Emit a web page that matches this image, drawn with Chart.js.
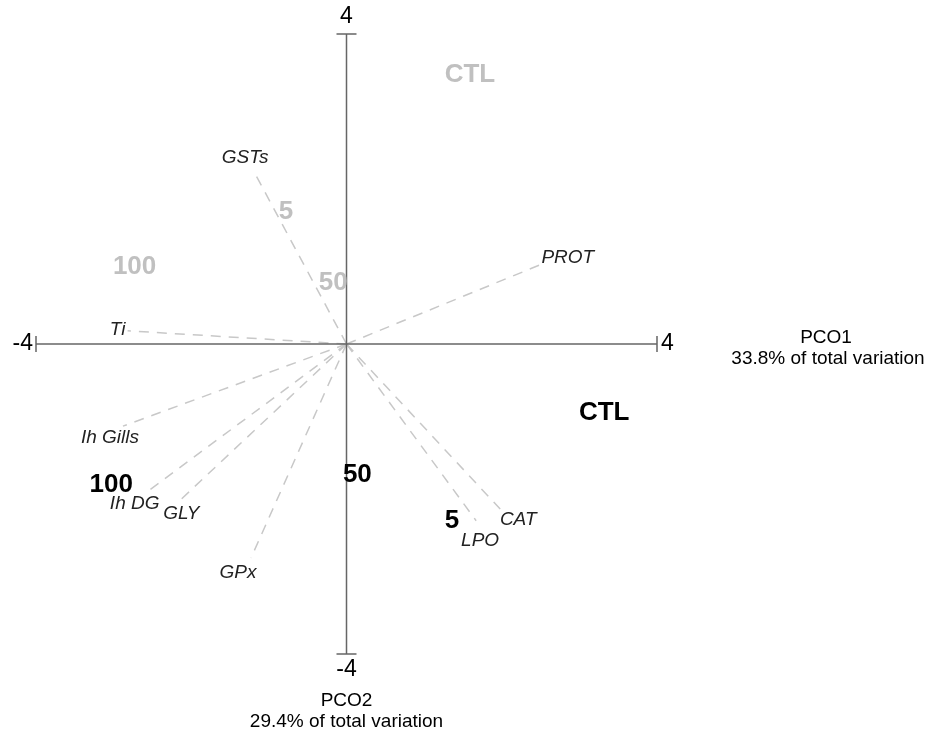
<!DOCTYPE html>
<html>
<head>
<meta charset="utf-8">
<script src="https://cdn.jsdelivr.net/npm/chart.js@4/dist/chart.umd.min.js"></script>
<style>
  html, body { margin: 0; padding: 0; background: #fff; }
  #wrap { width: 928px; height: 735px; }
</style>
</head>
<body>
<div id="wrap"><canvas id="pco"></canvas></div>
<script>
// vetores das variaveis (fim de cada linha tracejada)
const variaveis = ['GSTs', 'Ti', 'PROT', 'Ih Gills', 'Ih DG', 'GLY', 'GPx', 'CAT', 'LPO'];
const vetorX = [-1.19, -2.82, 2.49, -2.88, -2.60, -2.18, -1.23, 1.98, 1.67];
const vetorY = [2.22, 0.17, 1.02, -1.06, -1.93, -2.05, -2.76, -2.13, -2.28];

// grupos (centroides) - cinza e preto
const gruposCinza = ['CTL', '5', '100', '50'];
const cinzaX = [1.59, -0.78, -2.73, -0.17];
const cinzaY = [3.47, 1.70, 0.99, 0.79];

const gruposPreto = ['CTL', '50', '5', '100'];
const pretoX = [3.32, 0.14, 1.36, -3.03];
const pretoY = [-0.89, -1.69, -2.28, -1.82];

const limites = [-4, 4];
const tituloX = ['PCO1', '33.8% of total variation'];
const tituloY = ['PCO2', '29.4% of total variation'];

// deslocamento dos rotulos das variaveis em pixels (so estilo)
const offsetRotulo = {
  'GSTs': [-9, -14], 'Ti': [-10, -1], 'PROT': [28, -7], 'Ih Gills': [-13, 12],
  'Ih DG': [-10, 10], 'GLY': [4, 11], 'GPx': [-13, 15], 'CAT': [18, 11], 'LPO': [4, 20]
};

const fonte = "'Liberation Sans', Arial, sans-serif";

const datasets = [];
// eixos
datasets.push({ data: [{x: limites[0], y: 0}, {x: limites[1], y: 0}], borderColor: '#666', borderWidth: 1.5 });
datasets.push({ data: [{x: 0, y: limites[0]}, {x: 0, y: limites[1]}], borderColor: '#666', borderWidth: 1.5 });
// vetores tracejados
variaveis.forEach((v, i) => {
  datasets.push({
    data: [{x: 0, y: 0}, {x: vetorX[i], y: vetorY[i]}],
    borderColor: '#c8c8c8', borderWidth: 1.5, borderDash: [10, 8]
  });
});

const rotulos = {
  id: 'rotulos',
  afterDatasetsDraw(chart) {
    const ctx = chart.ctx;
    const sx = chart.scales.x, sy = chart.scales.y;
    const px = v => sx.getPixelForValue(v);
    const py = v => sy.getPixelForValue(v);
    ctx.save();
    ctx.textBaseline = 'middle';
    ctx.textAlign = 'center';

    // marcas nas pontas dos eixos
    ctx.strokeStyle = '#666';
    ctx.lineWidth = 1.5;
    ctx.beginPath();
    ctx.moveTo(px(limites[0]), py(0) - 8); ctx.lineTo(px(limites[0]), py(0) + 8);
    ctx.moveTo(px(limites[1]), py(0) - 8); ctx.lineTo(px(limites[1]), py(0) + 8);
    ctx.moveTo(px(0) - 10, py(limites[1])); ctx.lineTo(px(0) + 10, py(limites[1]));
    ctx.moveTo(px(0) - 10, py(limites[0])); ctx.lineTo(px(0) + 10, py(limites[0]));
    ctx.stroke();

    // numeros dos eixos
    ctx.fillStyle = '#000';
    ctx.font = '23px ' + fonte;
    ctx.fillText(String(limites[1]), px(0), py(limites[1]) - 17);
    ctx.fillText(String(limites[0]), px(0), py(limites[0]) + 16);
    ctx.textAlign = 'right';
    ctx.fillText(String(limites[0]), px(limites[0]) - 3, py(0));
    ctx.textAlign = 'left';
    ctx.fillText(String(limites[1]), px(limites[1]) + 4, py(0));

    // titulos dos eixos
    ctx.textAlign = 'center';
    ctx.font = '19px ' + fonte;
    ctx.fillText(tituloX[0], 826, py(0) - 6);
    ctx.fillText(tituloX[1], 828, py(0) + 15);
    ctx.fillText(tituloY[0], px(0), 701);
    ctx.fillText(tituloY[1], px(0), 722);

    // rotulos das variaveis
    ctx.font = 'italic 19px ' + fonte;
    ctx.fillStyle = '#222';
    variaveis.forEach((v, i) => {
      const o = offsetRotulo[v];
      ctx.fillText(v, px(vetorX[i]) + o[0], py(vetorY[i]) + o[1]);
    });

    // grupos
    ctx.font = 'bold 26px ' + fonte;
    ctx.fillStyle = '#c0c0c0';
    gruposCinza.forEach((g, i) => ctx.fillText(g, px(cinzaX[i]), py(cinzaY[i])));
    ctx.fillStyle = '#000';
    gruposPreto.forEach((g, i) => ctx.fillText(g, px(pretoX[i]), py(pretoY[i])));
    ctx.restore();
  }
};

new Chart(document.getElementById('pco'), {
  type: 'scatter',
  data: { datasets },
  options: {
    responsive: true,
    maintainAspectRatio: false,
    animation: false,
    showLine: true,
    elements: { point: { radius: 0, hoverRadius: 0 } },
    layout: { padding: { left: 36, right: 271, top: 34, bottom: 81 } },
    scales: {
      x: { display: false, min: limites[0], max: limites[1] },
      y: { display: false, min: limites[0], max: limites[1] }
    },
    plugins: { legend: { display: false }, tooltip: { enabled: false } }
  },
  plugins: [rotulos]
});
</script>
</body>
</html>
